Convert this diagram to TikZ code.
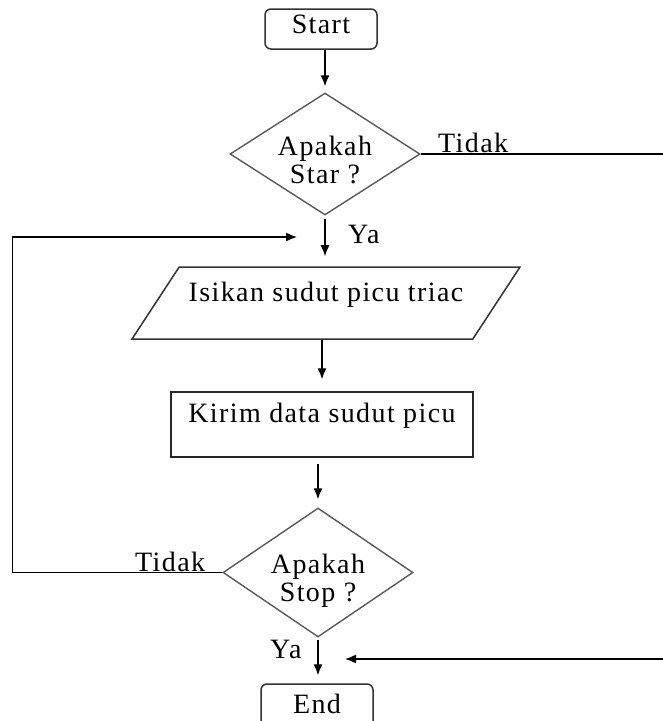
\documentclass[tikz,border=0pt]{standalone}
\usepackage{fontspec}
\setmainfont{Liberation Serif}[LetterSpace=5]
\usetikzlibrary{shapes.geometric,arrows.meta}

\begin{document}
\begin{tikzpicture}[x=1pt,y=-1pt,
        font=\fontsize{28}{28}\selectfont,
        term/.style={draw=black!80, line width=1.5pt, rounded corners=6pt, minimum width=112pt, minimum height=40pt, inner sep=0pt, text height=20pt, text depth=12pt},
        dec/.style={draw=black!65, line width=1.4pt, diamond, aspect=1.56, inner xsep=-2pt, inner ysep=-4pt, minimum width=190pt, align=center, text height=64pt, text depth=6pt},
        io/.style={draw=black!80, line width=1.5pt, trapezium, trapezium left angle=43, trapezium right angle=137, trapezium stretches body, minimum width=388pt, minimum height=72pt, inner sep=0pt, text height=20pt, text depth=24pt},
        proc/.style={draw=black!85, line width=1.5pt, rectangle, minimum width=302pt, minimum height=65pt, inner sep=0pt, text height=20pt, text depth=24pt},
        lbl/.style={inner sep=0pt, anchor=base west},
        arr/.style={draw=black, line width=1.4pt, -{Latex[length=11pt,width=9pt]}}]
    \useasboundingbox (0,0) rectangle (663,721);
    \clip (0,0) rectangle (663,721);
    %shapes
        \node[term] (start) at (321,29) {Start};
        \node[dec, minimum height=122pt] (d1) at (325,154) {Apakah\\Star ?};
        \node[io] (par) at (326,303) {Isikan sudut picu triac};
        \node[proc] (kirim) at (322,424.5) {Kirim data sudut picu};
        \node[dec, minimum height=129pt] (d2) at (318,572.5) {Apakah\\Stop ?};
        \node[term, minimum height=50pt] (stop) at (317,709) {End};
    % free ends
        \coordinate (masuk) at (297,237);
        \coordinate (balik) at (345,659);
    % lines
        \draw[arr, shorten >=6pt] (start.south -| d1.north) -- (d1.north);
        \draw[arr, shorten <=3pt, shorten >=10pt] (d1.south) -- (d1.south |- par.north);
        \draw[arr, shorten >=12pt] (kirim.north |- par.south) -- (kirim.north);
        \draw[arr, shorten <=6pt, shorten >=8pt] (kirim.south -| d2.north) -- (d2.north);
        \draw[arr, shorten <=2pt, shorten >=8pt] (d2.south) -- (d2.south |- stop.north);
        \draw[arr] (d2.west) -- ++(-210,0) |- (masuk);
        \draw[arr] (d1.east) -- ++(260,0) |- (balik);
    %labels
        \node[lbl] (tidak1) at (438,152) {Tidak};
        \node[lbl] (ya1) at (348,243) {Ya};
        \node[lbl] (tidak2) at (135,571) {Tidak};
        \node[lbl] (ya2) at (270,658) {Ya};
\end{tikzpicture}
\end{document}
